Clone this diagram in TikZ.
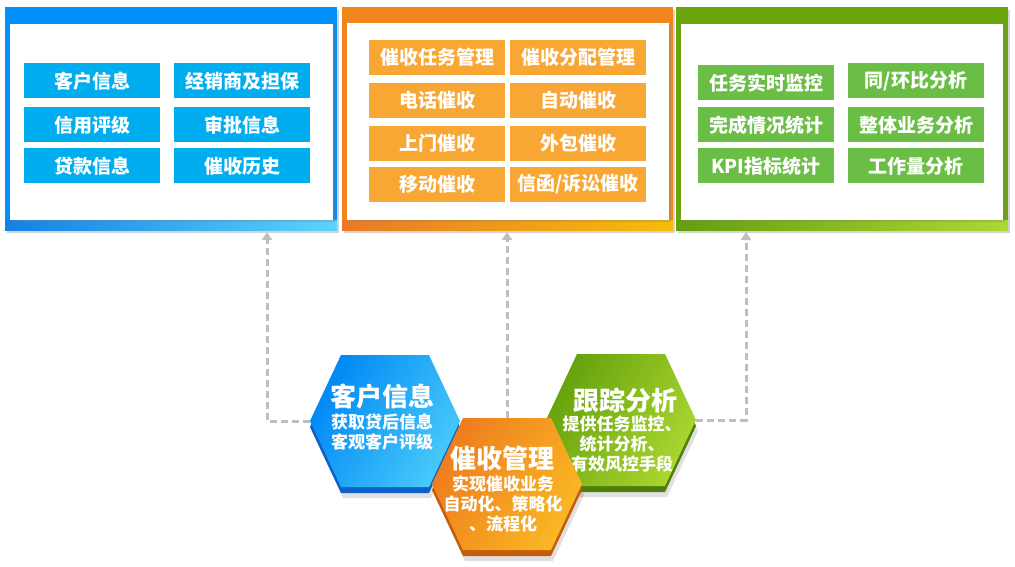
\documentclass[tikz,border=0pt]{standalone}
\usepackage{fontspec}
\setmainfont{Noto Sans CJK SC}
\usepackage{tikz}
\usetikzlibrary{calc, shadows, arrows.meta}

\definecolor{infoBar}{RGB}{0,145,250}
\definecolor{infoItem}{RGB}{0,174,239}
\definecolor{infoBandA}{RGB}{20,128,228}
\definecolor{infoBandB}{RGB}{95,210,250}
\definecolor{taskBar}{RGB}{240,135,30}
\definecolor{taskItem}{RGB}{248,166,52}
\definecolor{taskBandA}{RGB}{232,122,40}
\definecolor{taskBandB}{RGB}{246,188,10}
\definecolor{trackBar}{RGB}{108,166,14}
\definecolor{trackItem}{RGB}{106,189,69}
\definecolor{trackBandA}{RGB}{100,158,14}
\definecolor{trackBandB}{RGB}{172,216,52}
\definecolor{hexInfoA}{RGB}{0,136,245}
\definecolor{hexInfoB}{RGB}{72,202,250}
\definecolor{hexInfoEdge}{RGB}{12,96,200}
\definecolor{hexTaskA}{RGB}{238,124,30}
\definecolor{hexTaskB}{RGB}{250,184,35}
\definecolor{hexTaskEdge}{RGB}{196,92,12}
\definecolor{hexTrackA}{RGB}{102,162,12}
\definecolor{hexTrackB}{RGB}{170,214,48}
\definecolor{hexTrackEdge}{RGB}{80,126,10}
\definecolor{linkgray}{RGB}{191,191,191}

\newcommand{\hexpath}{(-75,0) -- (-44,-66) -- (44,-66) -- (75,0) -- (44,66) -- (-44,66) -- cycle}

\tikzset{
    item/.style={rectangle, inner sep=0pt, minimum width=136pt, minimum height=35pt,
        text=white, font=\bfseries\fontsize{19}{21}\selectfont},
    whitebox/.style={fill=white, drop shadow={opacity=0.3, shadow xshift=1.5pt, shadow yshift=-2pt}},
    panelshadow/.style={drop shadow={opacity=0.35, shadow xshift=2pt, shadow yshift=-3pt}},
    hextitle/.style={text=white, font=\bfseries\fontsize{26}{28}\selectfont, inner sep=0pt},
    hextext/.style={align=center, text=white, font=\bfseries\fontsize{17}{20}\selectfont, inner sep=0pt},
    link/.style={draw=linkgray, line width=3pt, dash pattern=on 7pt off 4pt,
        -{Triangle[width=10pt,length=8pt]}}
}

\begin{document}
\begin{tikzpicture}[x=1pt, y=-1pt]
    \useasboundingbox (0,0) rectangle (1015,567);

    % customer information panel
    \begin{scope}[shift={(5,0)}]
        \fill[infoBar, panelshadow] (0,7) rectangle (332,230);
        \shade[left color=infoBandA, right color=infoBandB] (0,220) rectangle (332,230);
        \fill[whitebox] (5,24) rectangle (328,220);
        \node[item, fill=infoItem] (i1) at (87,81)  {客户信息};
        \node[item, fill=infoItem] (i2) at (237,81) {经销商及担保};
        \node[item, fill=infoItem] (i3) at (87,125)  {信用评级};
        \node[item, fill=infoItem] (i4) at (237,125) {审批信息};
        \node[item, fill=infoItem] (i5) at (87,166)  {贷款信息};
        \node[item, fill=infoItem] (i6) at (237,166) {催收历史};
    \end{scope}

    % collection management panel
    \begin{scope}[shift={(342,0)}]
        \fill[taskBar, panelshadow] (0,7) rectangle (331,230);
        \shade[left color=taskBandA, right color=taskBandB] (0,220) rectangle (331,230);
        \fill[whitebox] (5,23) rectangle (327,220);
        \node[item, fill=taskItem] (c1) at (95,57.5)   {催收任务管理};
        \node[item, fill=taskItem] (c2) at (236,57.5)  {催收分配管理};
        \node[item, fill=taskItem] (c3) at (95,100.5)  {电话催收};
        \node[item, fill=taskItem] (c4) at (236,100.5) {自动催收};
        \node[item, fill=taskItem] (c5) at (95,143.5)  {上门催收};
        \node[item, fill=taskItem] (c6) at (236,143.5) {外包催收};
        \node[item, fill=taskItem] (c7) at (95,184.5)  {移动催收};
        \node[item, fill=taskItem] (c8) at (236,184.5) {信函/诉讼催收};
    \end{scope}

    % tracking analysis panel
    \begin{scope}[shift={(676,0)}]
        \fill[trackBar, panelshadow] (0,7) rectangle (332,230);
        \shade[left color=trackBandA, right color=trackBandB] (0,220) rectangle (332,230);
        \fill[whitebox] (5,24) rectangle (327,220);
        \node[item, fill=trackItem] (t1) at (90,83)  {任务实时监控};
        \node[item, fill=trackItem] (t2) at (240,81) {同/环比分析};
        \node[item, fill=trackItem] (t3) at (90,125)  {完成情况统计};
        \node[item, fill=trackItem] (t4) at (240,125) {整体业务分析};
        \node[item, fill=trackItem] (t5) at (90,166)  {KPI指标统计};
        \node[item, fill=trackItem] (t6) at (240,166) {工作量分析};
    \end{scope}

    % customer information hexagon
    \begin{scope}[shift={(385,421)}]
        \fill[black, opacity=0.12, shift={(2,11)}] \hexpath;
        \fill[hexInfoEdge, shift={(0,6)}] \hexpath;
        \shade[left color=hexInfoA, right color=hexInfoB, shading angle=60] \hexpath;
        \coordinate (hexInfoW) at (-75,0);
        \node[hextitle] (hexInfo) at (-3,-24) {客户信息};
        \node[hextext] (hexInfoText) at (-3,11.5) {获取贷后信息\\客观客户评级};
    \end{scope}

    % tracking analysis hexagon
    \begin{scope}[shift={(621,420)}]
        \fill[black, opacity=0.12, shift={(2,11)}] \hexpath;
        \fill[hexTrackEdge, shift={(0,6)}] \hexpath;
        \shade[left color=hexTrackA, right color=hexTrackB, shading angle=60] \hexpath;
        \coordinate (hexTrackE) at (75,0);
        \node[hextitle] (hexTrack) at (4,-19) {跟踪分析};
        \node[hextext] (hexTrackText) at (1,24) {提供任务监控、\\统计分析、\\有效风控手段};
    \end{scope}

    % collection management hexagon
    \begin{scope}[shift={(507,484)}]
        \fill[black, opacity=0.12, shift={(2,11)}] \hexpath;
        \fill[hexTaskEdge, shift={(0,6)}] \hexpath;
        \shade[left color=hexTaskA, right color=hexTaskB, shading angle=60] \hexpath;
        \coordinate (hexTaskN) at (0,-66);
        \node[hextitle] (hexTask) at (-5,-25) {催收管理};
        \node[hextext] (hexTaskText) at (-4,20) {实现催收业务\\自动化、策略化\\、流程化};
    \end{scope}

    % links up to the panels
    \coordinate (infoTip) at (267,232);
    \coordinate (taskTip) at (507,232);
    \coordinate (trackTip) at (746,232);
    \draw[link] (hexInfoW) -| (infoTip);
    \draw[link] (hexTaskN) -- (taskTip);
    \draw[link] (hexTrackE) -| (trackTip);
\end{tikzpicture}
\end{document}
